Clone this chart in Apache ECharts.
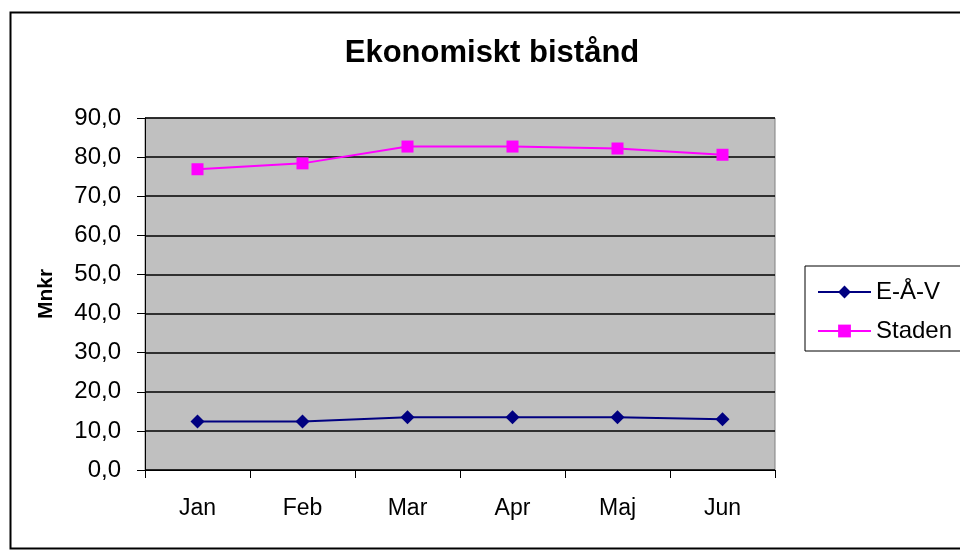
<!DOCTYPE html>
<html>
<head>
<meta charset="utf-8">
<script src="https://cdn.jsdelivr.net/npm/echarts@6/dist/echarts.min.js"></script>
<style>html,body{margin:0;padding:0;background:#fff}#c{width:960px;height:560px}</style>
</head>
<body>
<div id="c"></div>
<script>
var categories = ['Jan', 'Feb', 'Mar', 'Apr', 'Maj', 'Jun'];
var eavValues = [12.4, 12.4, 13.5, 13.5, 13.5, 13.0];
var stadenValues = [76.9, 78.4, 82.7, 82.7, 82.2, 80.6];
var yTicks = { min: 0, max: 90, interval: 10 };

var chart = echarts.init(document.getElementById('c'));
var font = 'Liberation Sans, Arial, sans-serif';
chart.setOption({
  animation: false,
  backgroundColor: '#fff',
  graphic: [
    { type: 'rect', shape: { x: 10.5, y: 12.5, width: 960, height: 536 }, style: { fill: 'none', stroke: '#000', lineWidth: 2 }, z: -1 },
    { type: 'text', x: 492, y: 53, style: { text: 'Ekonomiskt bistånd', align: 'center', verticalAlign: 'middle', font: 'bold 31px Liberation Sans, Arial, sans-serif', fill: '#000' } }
  ],
  legend: {
    orient: 'vertical', left: 805, top: 266,
    padding: [14, 40, 8, 12], itemGap: 15, itemWidth: 53, itemHeight: 16,
    borderColor: '#000', borderWidth: 1,
    textStyle: { fontFamily: font, fontSize: 24, color: '#000', padding: [0, 0, 0, 0] },
    data: ['E-Å-V', 'Staden']
  },
  grid: { left: 145, right: 185, top: 118, bottom: 90, show: true, backgroundColor: '#c0c0c0', borderColor: '#808080', borderWidth: 1 },
  xAxis: {
    type: 'category', data: categories, boundaryGap: true,
    axisLine: { lineStyle: { color: '#000', width: 1 } },
    axisTick: { show: true, length: 8, lineStyle: { color: '#000' } },
    axisLabel: { fontFamily: font, fontSize: 23, color: '#000', margin: 27 }
  },
  yAxis: {
    type: 'value', min: yTicks.min, max: yTicks.max, interval: yTicks.interval,
    name: 'Mnkr', nameLocation: 'middle', nameGap: 88, nameRotate: 90,
    nameTextStyle: { fontFamily: font, fontSize: 21, fontWeight: 'bold', color: '#000' },
    axisLine: { show: true, lineStyle: { color: '#000' } },
    axisTick: { show: true, length: 8, lineStyle: { color: '#000' } },
    axisLabel: { fontFamily: font, fontSize: 24, color: '#000', margin: 24, formatter: function (v) { return v.toFixed(1).replace('.', ','); } },
    splitLine: { show: true, lineStyle: { color: '#000', width: 1.5 } }
  },
  series: [
    { name: 'E-Å-V', type: 'line', data: eavValues, symbol: 'diamond', symbolSize: 14,
      itemStyle: { color: '#000080' }, lineStyle: { color: '#000080', width: 2 } },
    { name: 'Staden', type: 'line', data: stadenValues, symbol: 'rect', symbolSize: 12,
      itemStyle: { color: '#ff00ff' }, lineStyle: { color: '#ff00ff', width: 2 } }
  ]
});
</script>
</body>
</html>
